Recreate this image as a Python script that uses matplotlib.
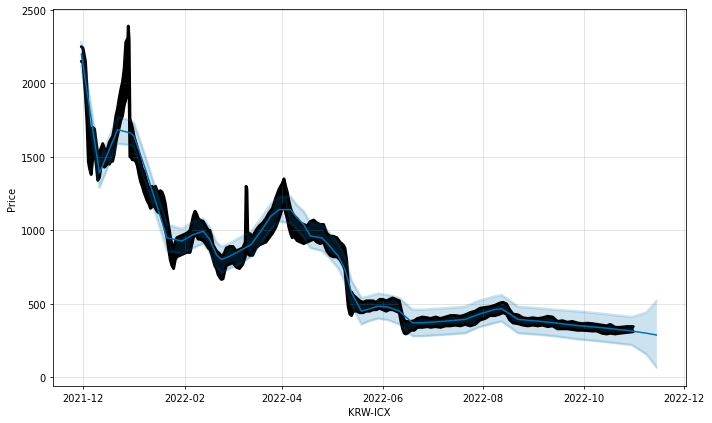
import matplotlib
matplotlib.use("Agg")
import matplotlib.pyplot as plt
import matplotlib.dates as mdates
import pandas as pd

# observed KRW-ICX price (low / high envelope of the hourly points)
obs_dates = [
    "2021-11-30", "2021-12-01", "2021-12-02 12:00", "2021-12-03 12:00", "2021-12-04 06:00",
    "2021-12-05", "2021-12-06", "2021-12-07", "2021-12-08", "2021-12-09", "2021-12-10",
    "2021-12-11", "2021-12-12", "2021-12-13", "2021-12-14", "2021-12-15", "2021-12-16",
    "2021-12-17", "2021-12-18", "2021-12-19", "2021-12-20", "2021-12-21", "2021-12-22",
    "2021-12-23", "2021-12-24", "2021-12-25", "2021-12-26", "2021-12-27", "2021-12-28 06:00",
    "2021-12-28 12:00", "2021-12-29 00:00", "2021-12-29 12:00", "2021-12-30", "2021-12-31",
    # jan
    "2022-01-01", "2022-01-02", "2022-01-03", "2022-01-04", "2022-01-05", "2022-01-06",
    "2022-01-07", "2022-01-08", "2022-01-09", "2022-01-10", "2022-01-11", "2022-01-12",
    "2022-01-13", "2022-01-14", "2022-01-15", "2022-01-16", "2022-01-17", "2022-01-18",
    "2022-01-19", "2022-01-20", "2022-01-21", "2022-01-22", "2022-01-23", "2022-01-24",
    "2022-01-25", "2022-01-26", "2022-01-27", "2022-01-29", "2022-01-31",
    # feb
    "2022-02-02", "2022-02-04", "2022-02-05", "2022-02-06", "2022-02-07", "2022-02-08",
    "2022-02-09", "2022-02-10", "2022-02-12", "2022-02-14", "2022-02-15", "2022-02-16",
    "2022-02-17", "2022-02-18", "2022-02-19", "2022-02-20", "2022-02-21", "2022-02-22",
    "2022-02-23", "2022-02-24", "2022-02-25", "2022-02-26", "2022-02-28",
    # mar
    "2022-03-02", "2022-03-04", "2022-03-06", "2022-03-08", "2022-03-09 12:00", "2022-03-10 00:00",
    "2022-03-10 12:00", "2022-03-11 00:00", "2022-03-12", "2022-03-14", "2022-03-16", "2022-03-18",
    "2022-03-20", "2022-03-22", "2022-03-24", "2022-03-26", "2022-03-28", "2022-03-30",
    # apr
    "2022-04-01", "2022-04-02", "2022-04-03", "2022-04-04", "2022-04-05", "2022-04-06",
    "2022-04-07", "2022-04-08", "2022-04-10", "2022-04-12", "2022-04-14", "2022-04-16",
    "2022-04-18", "2022-04-20", "2022-04-22", "2022-04-24", "2022-04-26", "2022-04-28",
    "2022-04-30",
    # may
    "2022-05-02", "2022-05-04", "2022-05-06", "2022-05-08", "2022-05-09", "2022-05-10",
    "2022-05-11", "2022-05-12", "2022-05-13", "2022-05-14", "2022-05-16", "2022-05-18",
    "2022-05-20", "2022-05-22", "2022-05-24", "2022-05-26", "2022-05-28", "2022-05-30",
    # jun
    "2022-06-01", "2022-06-03", "2022-06-05", "2022-06-07", "2022-06-09", "2022-06-11",
    "2022-06-12", "2022-06-13", "2022-06-14", "2022-06-15", "2022-06-16", "2022-06-18",
    "2022-06-20", "2022-06-22", "2022-06-25", "2022-06-28", "2022-06-30",
    # jul
    "2022-07-03", "2022-07-06", "2022-07-09", "2022-07-12", "2022-07-15", "2022-07-18",
    "2022-07-21", "2022-07-24", "2022-07-27", "2022-07-30",
    # aug
    "2022-08-02", "2022-08-05", "2022-08-08", "2022-08-11", "2022-08-13", "2022-08-15",
    "2022-08-17", "2022-08-19", "2022-08-22", "2022-08-25", "2022-08-28", "2022-08-31",
    # sep
    "2022-09-03", "2022-09-06", "2022-09-09", "2022-09-12", "2022-09-15", "2022-09-18",
    "2022-09-21", "2022-09-24", "2022-09-27", "2022-09-30",
    # oct
    "2022-10-03", "2022-10-06", "2022-10-09", "2022-10-12", "2022-10-15", "2022-10-17",
    "2022-10-20", "2022-10-23", "2022-10-27", "2022-10-31",
]
obs_low = [
    2150, 2140, 1920, 1720, 1470,
    1420, 1380, 1500, 1540, 1450, 1340,
    1360, 1440, 1450, 1430, 1440, 1460,
    1450, 1470, 1470, 1520, 1600, 1650,
    1700, 1750, 1780, 1850, 1890, 1950,
    2000, 1950, 1500, 1500, 1480,
    1480, 1470, 1440, 1380, 1330, 1300,
    1260, 1230, 1200, 1180, 1150, 1160,
    1170, 1150, 1130, 1120, 1130, 1100,
    1050, 1000, 950, 870, 800, 760,
    740, 800, 820, 830, 840,
    850, 850, 900, 950, 980, 960,
    940, 940, 930, 900, 880, 870,
    840, 800, 760, 740, 700, 680,
    666, 670, 720, 760, 770,
    780, 750, 740, 770, 820, 880,
    880, 840, 830, 830, 880, 900,
    910, 920, 950, 980, 1020, 1080,
    1150, 1180, 1120, 1080, 1020, 980,
    950, 960, 930, 920, 910, 920,
    930, 940, 920, 910, 920, 860,
    830,
    820, 820, 800, 760, 730, 600,
    480, 430, 420, 450, 450, 440,
    440, 450, 450, 460, 460, 470,
    460, 450, 460, 460, 450, 440,
    380, 330, 300, 295, 300, 320,
    320, 340, 340, 345, 340,
    345, 340, 350, 350, 355, 350,
    360, 350, 360, 390,
    400, 420, 420, 430, 440, 430,
    390, 370, 365, 355, 350, 355,
    350, 355, 345, 350, 330, 330,
    330, 325, 320, 320,
    318, 315, 315, 300, 295, 300,
    295, 300, 305, 310,
]
obs_high = [
    2250, 2240, 2150, 1950, 1770,
    1700, 1690, 1700, 1690, 1600, 1520,
    1530, 1560, 1590, 1560, 1540, 1560,
    1600, 1620, 1640, 1700, 1780, 1830,
    1900, 1960, 2010, 2100, 2280, 2310,
    2390, 2300, 1760, 1740, 1700,
    1640, 1600, 1560, 1520, 1470, 1420,
    1400, 1360, 1320, 1290, 1280, 1300,
    1280, 1300, 1270, 1260, 1270, 1260,
    1230, 1180, 1100, 1030, 960, 900,
    880, 920, 950, 960, 970,
    980, 1000, 1050, 1100, 1130, 1110,
    1080, 1070, 1060, 1020, 1000, 1000,
    960, 900, 880, 860, 850, 840,
    820, 830, 850, 880, 890,
    890, 860, 870, 880, 920, 1300,
    1280, 980, 980, 960, 1000, 1030,
    1050, 1080, 1120, 1150, 1220, 1280,
    1320, 1350, 1300, 1260, 1200, 1150,
    1120, 1100, 1080, 1050, 1040, 1030,
    1060, 1070, 1050, 1040, 1040, 980,
    960,
    960, 950, 920, 900, 880, 800,
    650, 560, 580, 560, 540, 520,
    510, 520, 520, 520, 510, 530,
    530, 520, 530, 540, 530, 520,
    470, 420, 390, 380, 380, 380,
    385, 400, 410, 405, 400,
    410, 400, 410, 420, 420, 415,
    425, 440, 450, 470,
    475, 480, 490, 505, 510, 500,
    460, 430, 425, 405, 400, 405,
    400, 405, 415, 410, 380, 385,
    375, 380, 370, 365,
    368, 365, 360, 355, 350, 360,
    340, 340, 345, 345,
]

# forecast (yhat with uncertainty interval)
fc_dates = [
    "2021-11-30", "2021-12-11", "2021-12-22", "2021-12-30", "2022-01-01", "2022-01-08",
    "2022-01-21", "2022-01-30", "2022-02-06", "2022-02-12", "2022-02-16", "2022-02-20",
    "2022-02-23", "2022-02-28", "2022-03-06", "2022-03-13", "2022-03-19", "2022-03-25",
    "2022-03-30", "2022-04-06", "2022-04-10", "2022-04-14", "2022-04-18", "2022-04-25",
    "2022-04-29", "2022-05-05", "2022-05-09", "2022-05-13", "2022-05-19", "2022-05-23",
    "2022-05-29", "2022-06-04", "2022-06-11", "2022-06-19", "2022-06-25", "2022-07-09",
    "2022-07-21", "2022-07-29", "2022-08-08", "2022-08-12", "2022-08-16", "2022-08-22",
    "2022-09-03", "2022-09-13", "2022-09-26", "2022-10-10", "2022-10-30", "2022-11-08",
    "2022-11-14",
]
yhat = [
    2200, 1390, 1685, 1662, 1640, 1413,
    949, 927, 971, 994, 937, 835,
    801, 824, 860, 903, 994, 1096,
    1141, 1141, 1084, 1039, 962, 949,
    903, 824, 734, 575, 450, 462,
    484, 478, 450, 371, 371, 382,
    394, 428, 462, 466, 439, 394,
    382, 371, 353, 340, 315, 300,
    288,
]
yhat_lower = [
    2120, 1290, 1590, 1580, 1560, 1330,
    860, 840, 880, 910, 850, 750,
    710, 740, 770, 820, 910, 1010,
    1060, 1050, 1000, 950, 880, 860,
    820, 740, 650, 490, 360, 380,
    400, 390, 360, 280, 280, 290,
    300, 340, 370, 380, 350, 300,
    290, 280, 260, 245, 220, 156,
    68,
]
yhat_upper = [
    2280, 1470, 1770, 1750, 1730, 1500,
    1040, 1010, 1060, 1080, 1020, 920,
    890, 910, 950, 990, 1080, 1180,
    1230, 1230, 1170, 1130, 1050, 1040,
    990, 910, 820, 660, 540, 550,
    570, 560, 540, 460, 460, 470,
    480, 520, 550, 560, 530, 480,
    470, 460, 450, 435, 410, 440,
    518,
]

od = pd.to_datetime(obs_dates, format="mixed")
fd = pd.to_datetime(fc_dates, format="mixed")

fig = plt.figure(facecolor="w", figsize=(10, 5.955), dpi=71.2)
ax = fig.add_subplot(111)
fig.subplots_adjust(left=0.0745, right=0.9635, top=0.976, bottom=0.087)

# observed points
ax.fill_between(od, obs_low, obs_high, color="k", lw=0)
ax.plot(od, obs_low, color="k", lw=3, solid_capstyle="round", solid_joinstyle="round")
ax.plot(od, obs_high, color="k", lw=3, solid_capstyle="round", solid_joinstyle="round")

# forecast
ax.plot(fd, yhat, ls="-", c="#0072B2", lw=1.5)
ax.fill_between(fd, yhat_lower, yhat_upper, color="#0072B2", alpha=0.2, lw=0)
ax.plot(fd, yhat_lower, c="#0072B2", alpha=0.2, lw=2.5)
ax.plot(fd, yhat_upper, c="#0072B2", alpha=0.2, lw=2.5)

ax.grid(True, which="major", c="gray", ls="-", lw=1, alpha=0.2)
ax.xaxis.set_major_locator(mdates.MonthLocator(bymonth=[2, 4, 6, 8, 10, 12]))
ax.xaxis.set_major_formatter(mdates.DateFormatter("%Y-%m"))
ax.set_xlim(pd.Timestamp("2021-11-12 20:00"), pd.Timestamp("2022-12-02"))
ax.set_ylim(-60, 2505)
ax.set_xlabel("KRW-ICX")
ax.set_ylabel("Price")

fig.savefig("out.png", dpi=71.2, facecolor="w")
